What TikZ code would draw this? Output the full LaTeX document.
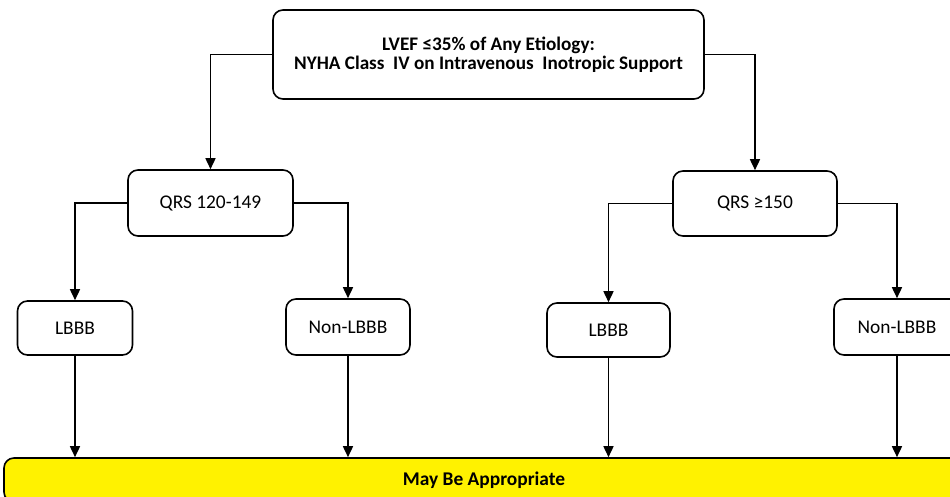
\documentclass[tikz,border=0pt]{standalone}
\usepackage{fontspec}
\setmainfont{Carlito}
\usetikzlibrary{arrows.meta}

\begin{document}
\begin{tikzpicture}[x=0.5pt,y=-0.5pt,
  flowbox/.style={draw,line width=0.8pt,rounded corners=5pt,align=center,inner sep=0pt,
    font=\fontsize{9.7}{9.5}\selectfont},
  barbox/.style={flowbox,fill=yellow,font=\bfseries\fontsize{9.7}{9.5}\selectfont},
  arr/.style={line width=0.8pt,-{Triangle[length=5.5pt,width=5pt]}}]
\useasboundingbox (0,0) rectangle (950,497);
\clip (0,0) rectangle (950,497);
% question
\node[flowbox,minimum width=215.5pt,minimum height=44.5pt,
  font=\bfseries\fontsize{9.6}{9.5}\selectfont] (top) at (488.5,54.5)
  {LVEF ≤35\% of Any Etiology:\\NYHA Class\ \ IV on Intravenous\ \ Inotropic Support};
% QRS width
\node[flowbox,minimum width=82.5pt,minimum height=33pt] (qrsa) at (210.5,203) {QRS 120-149};
\node[flowbox,minimum width=82pt,minimum height=32.5pt] (qrsb) at (755,203.5) {QRS ≥150};
% morphology
\node[flowbox,minimum width=57.5pt,minimum height=27pt] (lbbba) at (75,328) {LBBB};
\node[flowbox,minimum width=62pt,minimum height=28pt] (nonlbbba) at (348,327) {Non-LBBB};
\node[flowbox,minimum width=61.5pt,minimum height=27pt] (lbbbb) at (608.5,330) {LBBB};
\node[flowbox,minimum width=63pt,minimum height=28pt] (nonlbbbb) at (897,327) {Non-LBBB};
% result
\node[barbox,minimum width=480pt,minimum height=22pt] (appr) at (484,480) {May Be Appropriate};

\draw[arr] (top.west) -| (qrsa.north);
\draw[arr] (top.east) -| (qrsb.north);
\draw[arr] (qrsa.west) -| (lbbba.north);
\draw[arr] (qrsa.east) -| (nonlbbba.north);
\draw[arr] (qrsb.west) -| (lbbbb.north);
\draw[arr] (qrsb.east) -| (nonlbbbb.north);
\foreach \n in {lbbba,nonlbbba,lbbbb,nonlbbbb}
  \draw[arr] (\n.south) -- (\n.south |- appr.north);
\end{tikzpicture}
\end{document}
